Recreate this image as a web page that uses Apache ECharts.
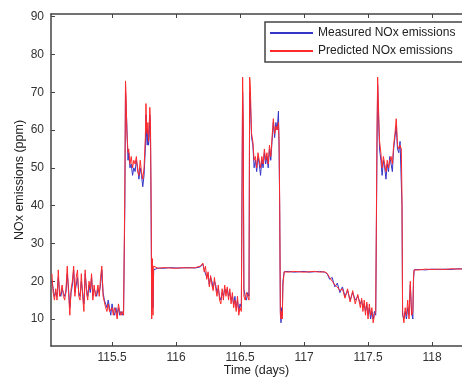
<!DOCTYPE html>
<html>
<head>
<meta charset="utf-8">
<script src="https://cdn.jsdelivr.net/npm/echarts@6/dist/echarts.min.js"></script>
<style>html,body{margin:0;padding:0;background:#fff}#c{width:462px;height:378px}</style>
</head>
<body>
<div id="c"></div>
<script>
const times = [
115.03,115.04,115.05,115.06,115.07,115.08,115.09,115.10,115.11,115.12,115.13,115.14,115.15,115.16,115.17,115.18,115.19,115.20,115.21,115.22,
115.23,115.24,115.25,115.26,115.27,115.28,115.29,115.30,115.31,115.32,115.33,115.34,115.35,115.36,115.37,115.38,115.39,115.40,115.41,115.42,
115.43,115.44,115.45,115.46,115.47,115.48,115.49,115.50,115.51,115.52,115.53,115.54,115.55,115.56,115.57,115.58,115.59,
115.60,115.605,115.61,115.615,115.62,115.625,115.63,115.64,115.65,115.66,115.67,115.68,115.69,115.70,115.71,115.72,115.73,115.74,115.75,115.76,
115.765,115.77,115.775,115.78,115.785,115.79,115.795,115.80,115.805,115.81,115.815,115.82,115.825,
115.83,115.86,115.90,115.95,116.00,116.05,116.10,116.15,116.19,116.21,116.22,116.23,116.24,116.25,116.26,116.27,116.28,116.29,116.30,
116.31,116.32,116.33,116.34,116.35,116.36,116.37,116.38,116.39,116.40,116.41,116.42,116.43,116.44,116.45,116.46,116.47,116.48,116.49,116.50,116.51,
116.52,116.525,116.53,116.54,116.55,116.56,116.57,116.575,116.58,116.585,116.59,116.60,116.61,116.62,116.63,116.64,116.65,116.66,116.67,116.68,
116.69,116.70,116.71,116.72,116.73,116.74,116.75,116.76,116.77,116.78,116.79,116.80,116.805,116.81,116.815,116.82,116.825,116.83,116.835,
116.845,116.88,116.92,116.96,117.00,117.04,117.08,117.12,117.16,117.18,117.20,117.22,117.24,117.26,117.28,117.30,117.32,117.34,117.36,117.38,
117.40,117.42,117.44,117.45,117.46,117.47,117.48,117.49,117.50,117.51,117.52,117.53,117.54,117.55,117.56,
117.57,117.575,117.58,117.585,117.59,117.60,117.61,117.62,117.63,117.64,117.65,117.66,117.67,117.68,117.69,117.70,117.71,117.72,117.725,117.73,
117.74,117.75,117.76,117.765,117.77,117.78,117.79,117.80,117.81,117.82,117.83,117.84,117.85,117.855,117.86,
117.90,117.95,118.00,118.05,118.10,118.15,118.20,118.25,118.30
];
const measured = [
20,18,16,17,16,21,17,16,18,17,16,17,22,18,13,17,19,23,17,19,
21,17,16,20,17,14,22,18,16,19,17,21,16,18,17,16,18,17,19,23,
17,15,14,13,15,13,11,14,12,11,13,11,13,11,12,11,12,
40,70,66,62,56,52,54,50,51,48,50,49,52,50,47,50,48,45,48,55,
64,58,56,60,56,58,64,60,38,12,24,13,23,
23.4,23.5,23.4,23.6,23.5,23.5,23.6,23.5,23.8,24.5,23,23.5,21,22,19,21,20,18,20,
19,17,18,16,15,17,16,18,17,18,16,17,15,16,14,16,13,15,12,14,13,
70,60,18,16,15,17,16,70,68,63,58,56,50,52,49,53,51,48,52,50,
54,51,53,50,55,52,57,62,58,62,60,65,55,38,12,9,13,11,20,
22.5,22.6,22.4,22.5,22.6,22.4,22.5,22.6,22.4,22.0,20.5,21,18.5,19.5,17,18.5,16,17.5,15,17,
15,16,14,15,13,14,12,14,11,13,10,12,10,12,11,
55,72,66,60,55,52,48,52,50,47,51,49,53,51,49,55,58,61,58,55,
54,57,57,40,11,10,12,10,13,11,19,12,10,20,23,
23.1,23,23.2,23.1,23.2,23.1,23.3,23.2,23.3
];
const predicted = [
22,17,15,18,15,23,16,17,19,16,15,18,24,17,11,18,20,24,16,21,
23,16,15,22,16,12,23,17,15,20,18,22,15,19,16,17,19,16,21,24,
16,16,13,12,14,12,12,13,11,13,12,10,14,12,11,12,11,
45,73,69,60,57,54,55,51,53,50,52,51,53,49,48,52,49,47,50,58,
67,60,59,62,57,61,66,62,42,10,26,11,24,
23.5,23.4,23.6,23.5,23.4,23.6,23.5,23.6,24,24.8,22.5,24,20.5,22.5,18.5,21.5,19,17.5,21,
18,16,19,15,14,18,15,19,16,18.5,15,18,14,17,13,15,12,16,11,13,12,
74,62,16,15,17,16,15,74,72,65,59,57,52,53,50,54,52,50,53,51,
55,52,54,51,56,53,58,63,59,61,60,62,57,40,11,10,12,10,19,
22.5,22.4,22.6,22.5,22.4,22.5,22.6,22.4,22.5,22.1,21,20,19,18.5,17.5,18,15.5,18,14.5,17.5,
14,16.5,13,15.5,12,15,11,14.5,10,14,11,13,9,11,12,
60,74,68,62,57,54,50,53,51,49,52,50,52,53,51,56,59,63,60,56,
55,56,55,42,12,9,13,11,15,10,20,11,12,21,23,
23,23.2,23.1,23.2,23.1,23.3,23.2,23.3,23.2
];
const yTicks = [10,20,30,40,50,60,70,80,90];
const xTicks = [115.5,116,116.5,117,117.5,118];

const pair = (arr) => times.map((t, i) => [t, arr[i]]);
const font = 'Liberation Sans, Arial, sans-serif';
const axisCol = '#444';

const chart = echarts.init(document.getElementById('c'), null, {renderer: 'canvas'});
chart.setOption({
  animation: false,
  backgroundColor: '#fff',
  grid: {left: 51, top: 14, right: 0, bottom: 32, containLabel: false, outerBoundsMode: 'none'},
  legend: {
    orient: 'vertical', left: 265, top: 22,
    padding: [5, 80, 5, 5], itemGap: 6, itemWidth: 43, itemHeight: 2, icon: 'rect',
    borderColor: axisCol, borderWidth: 1.5, backgroundColor: '#fff',
    textStyle: {fontFamily: font, fontSize: 12, color: '#222'},
    data: ['Measured NOx emissions', 'Predicted NOx emissions']
  },
  xAxis: [{
    type: 'value', min: 115.023, max: 118.234,
    name: 'Time (days)', nameLocation: 'middle', nameGap: 18, nameMoveOverlap: false,
    nameTextStyle: {fontFamily: font, fontSize: 12.5, color: '#222'},
    axisLine: {show: true, lineStyle: {color: axisCol, width: 1.5}},
    axisTick: {show: true, inside: true, length: 4, customValues: xTicks, lineStyle: {color: axisCol}},
    axisLabel: {customValues: xTicks, fontFamily: font, fontSize: 12, color: '#333', margin: 6,
      formatter: v => String(v)},
    splitLine: {show: false}
  }, {
    type: 'value', position: 'top', min: 115.023, max: 118.234,
    axisLine: {show: true, onZero: false, lineStyle: {color: axisCol, width: 1.5}},
    axisTick: {show: true, inside: true, length: 4, customValues: xTicks, lineStyle: {color: axisCol}},
    axisLabel: {show: false},
    splitLine: {show: false}
  }],
  yAxis: {
    type: 'value', min: 2.86, max: 90.7,
    name: 'NOx emissions (ppm)', nameLocation: 'middle', nameGap: 25, nameRotate: 90, nameMoveOverlap: false,
    nameTextStyle: {fontFamily: font, fontSize: 12.5, color: '#222'},
    axisLine: {show: true, lineStyle: {color: axisCol, width: 1.5}},
    axisTick: {show: true, inside: true, length: 4, customValues: yTicks, lineStyle: {color: axisCol}},
    axisLabel: {customValues: yTicks, fontFamily: font, fontSize: 12, color: '#333', margin: 7},
    splitLine: {show: false}
  },
  series: [{
    name: 'Measured NOx emissions', type: 'line', symbol: 'none',
    data: pair(measured), lineStyle: {color: '#3535c8', width: 1}, itemStyle: {color: '#3535c8'}
  }, {
    name: 'Predicted NOx emissions', type: 'line', symbol: 'none',
    data: pair(predicted), lineStyle: {color: '#ff2a2a', width: 1}, itemStyle: {color: '#ff2a2a'}
  }]
});
</script>
</body>
</html>
